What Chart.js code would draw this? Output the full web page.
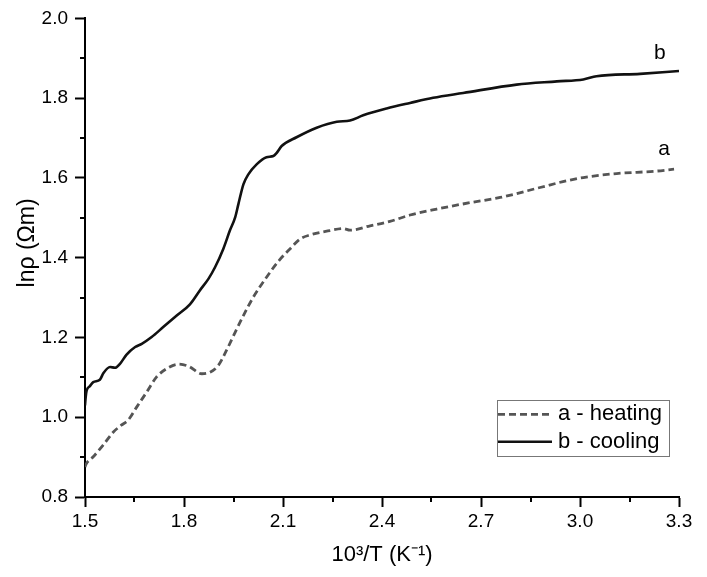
<!DOCTYPE html>
<html><head><meta charset="utf-8">
<script src="https://cdn.jsdelivr.net/npm/chart.js@4/dist/chart.umd.min.js"></script>
<style>html,body{margin:0;padding:0;background:#fff}canvas{display:block}</style>
</head><body>
<canvas id="c" width="707" height="577"></canvas>
<script>
// ---- data ----
const aX = [1.500,1.503,1.525,1.555,1.586,1.610,1.631,1.657,1.687,1.717,1.748,1.783,1.813,1.854,1.879,1.904,1.929,1.955,1.980,2.010,2.045,2.085,2.121,2.152,2.182,2.242,2.283,2.303,2.364,2.424,2.485,2.566,2.667,2.758,2.879,2.960,3.010,3.111,3.230,3.285];
const aY = [0.875,0.882,0.901,0.930,0.963,0.980,0.993,1.026,1.063,1.101,1.122,1.133,1.128,1.109,1.113,1.130,1.168,1.213,1.255,1.301,1.345,1.390,1.422,1.447,1.457,1.468,1.473,1.469,1.480,1.491,1.507,1.522,1.538,1.551,1.576,1.593,1.601,1.611,1.617,1.622];
const bX = [1.500,1.502,1.505,1.515,1.525,1.545,1.556,1.576,1.591,1.606,1.626,1.652,1.672,1.702,1.737,1.778,1.818,1.848,1.874,1.894,1.919,1.939,1.955,1.965,1.980,1.995,2.020,2.050,2.071,2.081,2.096,2.141,2.202,2.263,2.303,2.343,2.414,2.485,2.555,2.646,2.808,2.930,3.010,3.050,3.182,3.300];
const bY = [1.030,1.050,1.067,1.078,1.088,1.094,1.111,1.126,1.124,1.134,1.157,1.176,1.184,1.201,1.226,1.255,1.283,1.318,1.347,1.376,1.422,1.468,1.501,1.535,1.584,1.609,1.634,1.652,1.655,1.663,1.680,1.702,1.726,1.741,1.744,1.757,1.774,1.788,1.801,1.813,1.834,1.842,1.847,1.855,1.861,1.868];
const xTicks = [1.5,1.8,2.1,2.4,2.7,3.0,3.3];
const xTickLabels = ['1.5','1.8','2.1','2.4','2.7','3.0','3.3'];
const yTicks = [0.8,1.0,1.2,1.4,1.6,1.8,2.0];
const yTickLabels = ['0.8','1.0','1.2','1.4','1.6','1.8','2.0'];
const seriesLabels = ['a - heating','b - cooling'];
const curveTags = ['a','b'];
const tagPos = [[3.255,1.6725],[3.242,1.9125]];
const xTitle = '10³/T (K⁻¹)';
const yTitle = 'lnρ (Ωm)';

const FONT = "'Liberation Sans', Arial, sans-serif";
const toPts = (xs, ys) => xs.map((x,i)=>({x:x, y:ys[i]}));

const minorTicks = {
  id:'minorTicks',
  afterDraw(chart){
    const ctx = chart.ctx, xs = chart.scales.x, ys = chart.scales.y;
    ctx.save(); ctx.strokeStyle='#000'; ctx.lineWidth=2;
    for(let i=0;i<xTicks.length-1;i++){
      const px = Math.round(xs.getPixelForValue((xTicks[i]+xTicks[i+1])/2));
      ctx.beginPath(); ctx.moveTo(px, xs.top); ctx.lineTo(px, xs.top+5); ctx.stroke();
    }
    for(let i=0;i<yTicks.length-1;i++){
      const py = Math.round(ys.getPixelForValue((yTicks[i]+yTicks[i+1])/2));
      ctx.beginPath(); ctx.moveTo(ys.right, py); ctx.lineTo(ys.right-5, py); ctx.stroke();
    }
    // y axis title (drawn a little above the axis centre, as in the reference)
    ctx.fillStyle='#000'; ctx.font='23px '+FONT; ctx.textAlign='center'; ctx.textBaseline='middle';
    ctx.translate(28, ys.getPixelForValue(1.437)); ctx.rotate(-Math.PI/2);
    ctx.fillText(yTitle, 0, 0);
    ctx.restore();
  }
};

const boxLegend = {
  id:'boxLegend',
  afterDraw(chart){
    const ctx = chart.ctx, ca = chart.chartArea;
    const w = ca.right-ca.left, h = ca.bottom-ca.top;
    const L = ca.left + w*0.6936, R = ca.left + w*0.983;
    const T = ca.top + h*0.798, B = ca.top + h*0.915;
    ctx.save();
    ctx.fillStyle='#fff'; ctx.fillRect(L,T,R-L,B-T);
    ctx.strokeStyle='#777'; ctx.lineWidth=1; ctx.strokeRect(Math.round(L)+0.5,Math.round(T)+0.5,Math.round(R-L),Math.round(B-T));
    const rows=[T+14, T+41.5];
    chart.data.datasets.forEach((ds,i)=>{
      ctx.strokeStyle=ds.borderColor; ctx.lineWidth=ds.borderWidth;
      ctx.setLineDash(ds.borderDash||[]);
      ctx.beginPath(); ctx.moveTo(L+1, rows[i]); ctx.lineTo(L+55, rows[i]); ctx.stroke();
      ctx.setLineDash([]);
      ctx.fillStyle='#000'; ctx.font='22px '+FONT; ctx.textBaseline='middle'; ctx.textAlign='left';
      ctx.fillText(ds.label, L+61, rows[i]);
    });
    ctx.font='21px '+FONT; ctx.textAlign='center'; ctx.textBaseline='middle';
    curveTags.forEach((t,i)=>{
      ctx.fillText(t, chart.scales.x.getPixelForValue(tagPos[i][0]), chart.scales.y.getPixelForValue(tagPos[i][1]));
    });
    ctx.restore();
  }
};

new Chart(document.getElementById('c'), {
  type:'line',
  data:{datasets:[
    {label:seriesLabels[0], data:toPts(aX,aY), borderColor:'#555555', borderWidth:2.8, borderDash:[7,4], pointRadius:0, cubicInterpolationMode:'monotone', fill:false},
    {label:seriesLabels[1], data:toPts(bX,bY), borderColor:'#111111', borderWidth:2.6, pointRadius:0, cubicInterpolationMode:'monotone', fill:false}
  ]},
  options:{
    responsive:false, animation:false, devicePixelRatio:1,
    layout:{padding:{left:0,right:28,top:17,bottom:0}},
    plugins:{legend:{display:false}, tooltip:{enabled:false}},
    scales:{
      x:{type:'linear', min:1.5, max:3.3,
        afterBuildTicks(s){ s.ticks = xTicks.map(v=>({value:v})); },
        afterFit(s){ s.height = 80; },
        ticks:{callback:(v,i)=>xTickLabels[i], color:'#000', font:{family:FONT,size:19}, padding:3, maxRotation:0, autoSkip:false},
        grid:{drawOnChartArea:false, drawTicks:true, tickLength:10, tickWidth:2, tickColor:'#000'},
        border:{display:true, color:'#000', width:2},
        title:{display:true, text:xTitle, color:'#000', font:{family:FONT,size:22}, padding:{top:9,bottom:9}}
      },
      y:{type:'linear', min:0.8, max:2.0,
        afterBuildTicks(s){ s.ticks = yTicks.map(v=>({value:v})); },
        afterFit(s){ s.width = 85; },
        ticks:{callback:(v,i)=>yTickLabels[i], color:'#000', font:{family:FONT,size:19}, padding:7, autoSkip:false},
        grid:{drawOnChartArea:false, drawTicks:true, tickLength:10, tickWidth:2, tickColor:'#000'},
        border:{display:true, color:'#000', width:2},
        title:{display:false, text:yTitle}
      }
    }
  },
  plugins:[minorTicks, boxLegend]
});
</script>
</body></html>
